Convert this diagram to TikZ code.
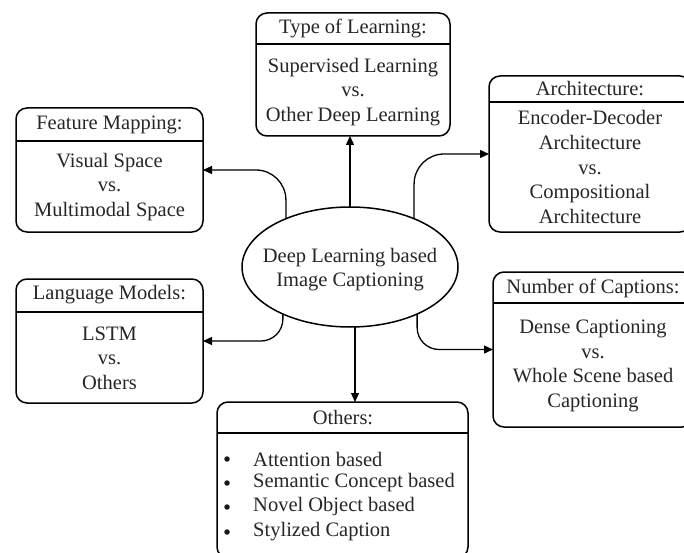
\documentclass[tikz,border=0pt]{standalone}
\usepackage{fontspec}
\setmainfont{Liberation Serif}
\usetikzlibrary{arrows.meta,shapes.geometric}
\begin{document}
\begin{tikzpicture}[x=1pt,y=-1pt,
  box/.style={draw, line width=1.5pt, rounded corners=11pt, inner sep=0pt, outer sep=0pt},
  hdr/.style={line width=1.5pt},
  txt/.style={font=\fontsize{20.5}{24.6}\selectfont, align=center, inner sep=0pt, text=black!85},
  itm/.style={font=\fontsize{20.5}{24.6}\selectfont, anchor=west, inner sep=0pt, text=black!85},
  bul/.style={circle, fill=black!90, inner sep=0pt, minimum size=5.5pt},
  conn/.style={line width=1.3pt, -{Triangle[length=9pt,width=8pt]}}
]
\clip (0,0) rectangle (684,553);
\fill[white] (0,0) rectangle (684,553);
% main ellipse
\node[draw, ellipse, line width=1.5pt, minimum width=216pt, minimum height=120pt, inner sep=0pt, outer sep=0pt] (ell) at (350,267) {};
\node[txt] (ellt) at (350,269.5) {Deep Learning based\\Image Captioning};
% boxes
\node[box, minimum width=194pt, minimum height=123pt] (tl) at (353,74.5) {};
\node[box, minimum width=187pt, minimum height=124pt] (fm) at (109.5,170) {};
\node[box, minimum width=202pt, minimum height=156pt] (ar) at (590,154) {};
\node[box, minimum width=187pt, minimum height=124pt] (lm) at (109.5,341) {};
\node[box, minimum width=200pt, minimum height=155pt] (nc) at (593,349.5) {};
\node[box, minimum width=251pt, minimum height=156pt] (ot) at (342.5,480) {};
% header lines
\draw[hdr] (tl.west |- 0,44) -- (tl.east |- 0,44);
\draw[hdr] (fm.west |- 0,141) -- (fm.east |- 0,141);
\draw[hdr] (ar.west |- 0,102) -- (ar.east |- 0,102);
\draw[hdr] (lm.west |- 0,312) -- (lm.east |- 0,312);
\draw[hdr] (nc.west |- 0,303) -- (nc.east |- 0,303);
\draw[hdr] (ot.west |- 0,433) -- (ot.east |- 0,433);
% texts
\node[txt] (tlh) at (353,28) {Type of Learning:};
\node[txt] (tlb) at (353,92) {Supervised Learning\\vs.\\Other Deep Learning};
\node[txt] (fmh) at (109.5,125) {Feature Mapping:};
\node[txt] (fmb) at (109.5,187) {Visual Space\\vs.\\Multimodal Space};
\node[txt] (arh) at (590,89) {Architecture:};
\node[txt] (arb) at (590,167) {Encoder-Decoder\\Architecture\\vs.\\Compositional\\Architecture};
\node[txt] (lmh) at (109.5,295) {Language Models:};
\node[txt] (lmb) at (109.5,358) {LSTM\\vs.\\Others};
\node[txt] (nch) at (593,288) {Number of Captions:};
\node[txt] (ncb) at (593,366) {Dense Captioning\\vs.\\Whole Scene based\\Captioning};
\node[txt] (oth) at (343,418) {Others:};
\node[bul] (b1) at (227,459) {};
\node[bul] (b2) at (227,483) {};
\node[bul] (b3) at (227,507) {};
\node[bul] (b4) at (227,532) {};
\node[itm] (i1) at (253,459) {Attention based};
\node[itm] (i2) at (253,483) {Semantic Concept based};
\node[itm] (i3) at (253,507) {Novel Object based};
\node[itm] (i4) at (253,532) {Stylized Caption};
% connectors
\draw[conn] (ell.north) -- (ell.north |- tl.south);
\draw[conn] ([xshift=5pt]ell.south) -- ([xshift=5pt]ell.south |- ot.north);
\draw[conn, rounded corners=30pt] (ell.143) |- (fm.east);
\draw[conn, rounded corners=30pt] (ell.37) |- (ar.west);
\draw[conn, rounded corners=22pt] (ell.215) |- (lm.east);
\draw[conn, rounded corners=22pt] (ell.325) |- (nc.west);
\end{tikzpicture}
\end{document}
